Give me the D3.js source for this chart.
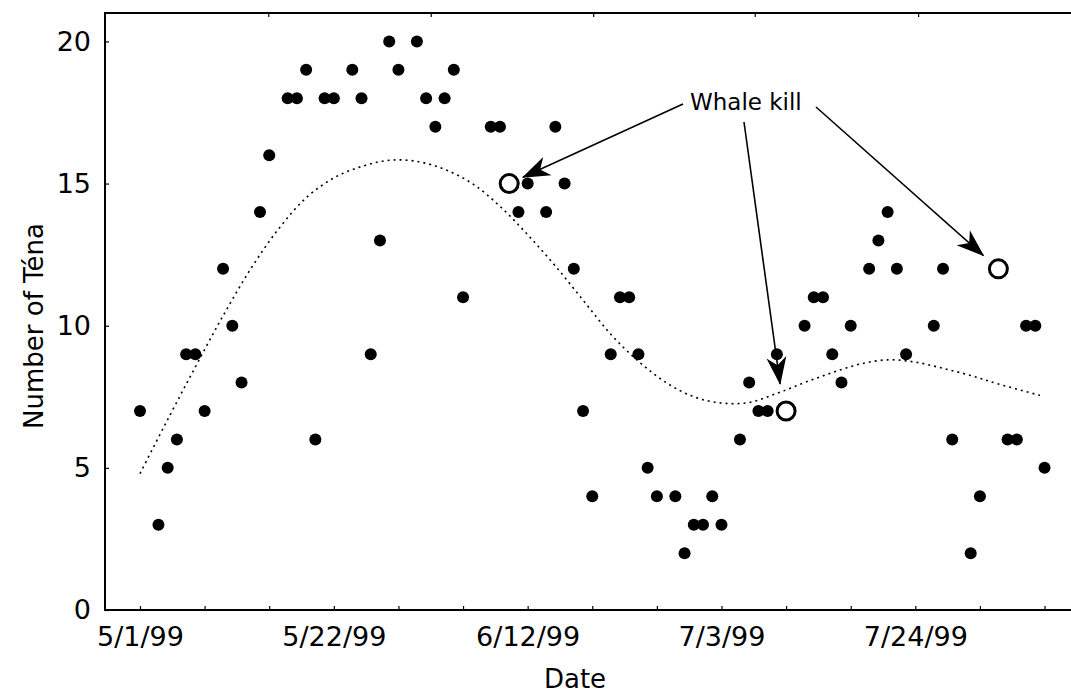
<!DOCTYPE html>
<html>
<head>
<meta charset="utf-8">
<script src="https://cdn.jsdelivr.net/npm/d3@7"></script>
<style>
  body { margin: 0; background: #fff; }
  svg text { font-family: "DejaVu Sans", Verdana, sans-serif; fill: #000; }
</style>
</head>
<body>
<div id="chart"></div>
<script>
// days after 5/1/99 and number of Téna seen that day
const obsDays = [0, 2, 3, 4, 5, 6, 7, 9, 10, 11, 13, 14, 16, 17, 18, 19, 20, 21, 23, 24, 25, 26, 27, 28,
    30, 31, 32, 33, 34, 35, 38, 39, 41, 42, 44, 45, 46, 47, 48, 49, 51, 52, 53, 54, 55, 56, 58, 59,
    60, 61, 62, 63, 65, 66, 67, 68, 69, 72, 73, 74, 75, 76, 77, 79, 80, 81, 82, 83, 86, 87, 88, 90,
    91, 94, 95, 96, 97, 98];
const obsCounts = [7, 3, 5, 6, 9, 9, 7, 12, 10, 8, 14, 16, 18, 18, 19, 6, 18, 18, 19, 18, 9, 13, 20, 19,
    20, 18, 17, 18, 19, 11, 17, 17, 14, 15, 14, 17, 15, 12, 7, 4, 9, 11, 11, 9, 5, 4, 4, 2,
    3, 3, 4, 3, 6, 8, 7, 7, 9, 10, 11, 11, 9, 8, 10, 12, 13, 14, 12, 9, 10, 12, 6, 2,
    4, 6, 6, 10, 10, 5];

// whale kill days (open circles)
const killDays = [40, 70, 93];
const killCounts = [15, 7, 12];

// dotted smooth trend
const trendDays = [0, 3, 6, 9, 12, 15, 18, 21, 24, 27, 30, 33, 36, 39, 42, 45, 48, 51, 54, 57, 60, 63,
    66, 69, 72, 75, 78, 81, 84, 87, 90, 93, 97.5];
const trendVals = [4.8, 6.7, 8.55, 10.35, 12.0, 13.4, 14.5, 15.2, 15.6, 15.82, 15.78, 15.5, 15.0, 14.2,
    13.2, 12.1, 10.9, 9.7, 8.75, 8.0, 7.5, 7.28, 7.3, 7.62, 8.0, 8.35, 8.65, 8.8, 8.72, 8.5, 8.25,
    7.95, 7.55];

const yTicks = [0, 5, 10, 15, 20];
const xLabelDays = [0, 21, 42, 63, 84];
const topTickDays = [13.9, 31.5, 49.1, 66.6, 84.3];

const startDate = new Date(Date.UTC(1999, 4, 1));
const toDate = d => new Date(startDate.getTime() + d * 864e5);

const width = 1071, height = 696;
const frame = {left: 105, top: 13, right: 1071, bottom: 610};

const svg = d3.select("#chart").append("svg")
    .attr("width", width)
    .attr("height", height);

// scales
const x = d3.scaleUtc()
    .domain([toDate(0), toDate(95)])
    .range([140, 140 + 95 * 9.23]);

const y = d3.scaleLinear()
    .domain([0, 21])
    .range([frame.bottom, frame.top]);

const fmt = d3.utcFormat("%-m/%-d/%y");

// frame lines
svg.append("path")
    .attr("d", `M${frame.right},${frame.top}H${frame.left}V${frame.bottom}H${frame.right}`)
    .attr("fill", "none")
    .attr("stroke", "#000")
    .attr("stroke-width", 2);

// bottom axis: weekly inward ticks, labels every 3 weeks
const weekDays = d3.range(0, 99, 7);
const xAxis = d3.axisBottom(x)
    .tickValues(weekDays.map(toDate))
    .tickSizeInner(-4)
    .tickSizeOuter(0)
    .tickFormat(d => {
        const day = Math.round((d - startDate) / 864e5);
        return xLabelDays.includes(day) ? fmt(d) : "";
    });

const gx = svg.append("g")
    .attr("transform", `translate(0,${frame.bottom})`)
    .call(xAxis);
gx.select(".domain").remove();
gx.selectAll("line").attr("stroke", "#000").attr("stroke-width", 1.2);
gx.selectAll("text")
    .attr("y", 17)
    .attr("dy", "0.71em")
    .style("font-size", "27px")
    .style("font-family", "'DejaVu Sans', Verdana, sans-serif")
    .attr("fill", "#000");

// top border ticks
const gTop = svg.append("g")
    .attr("transform", `translate(0,${frame.top})`)
    .call(d3.axisTop(x).tickValues(topTickDays.map(toDate)).tickSizeInner(-4).tickSizeOuter(0).tickFormat(""));
gTop.select(".domain").remove();
gTop.selectAll("line").attr("stroke", "#000").attr("stroke-width", 1.2);

// left axis
const gy = svg.append("g")
    .attr("transform", `translate(${frame.left},0)`)
    .call(d3.axisLeft(y).tickValues(yTicks).tickSizeInner(-4).tickSizeOuter(0).tickPadding(14));
gy.select(".domain").remove();
gy.selectAll("line").attr("stroke", "#000").attr("stroke-width", 1.2);
gy.selectAll("text")
    .style("font-size", "27px")
    .style("font-family", "'DejaVu Sans', Verdana, sans-serif")
    .attr("fill", "#000");

// axis titles
svg.append("text")
    .attr("transform", "translate(43,326) rotate(-90)")
    .attr("text-anchor", "middle")
    .style("font-size", "26px")
    .text("Number of Téna");

svg.append("text")
    .attr("x", 575)
    .attr("y", 688)
    .attr("text-anchor", "middle")
    .style("font-size", "26px")
    .text("Date");

// trend line
const line = d3.line()
    .x((d, i) => x(toDate(d)))
    .y((d, i) => y(trendVals[i]))
    .curve(d3.curveCatmullRom.alpha(0.5));

svg.append("path")
    .attr("d", line(trendDays))
    .attr("fill", "none")
    .attr("stroke", "#000")
    .attr("stroke-width", 1.6)
    .attr("stroke-dasharray", "2,4");

// observations
svg.append("g").selectAll("circle")
    .data(obsDays)
    .join("circle")
    .attr("cx", d => x(toDate(d)))
    .attr("cy", (d, i) => y(obsCounts[i]))
    .attr("r", 6)
    .attr("fill", "#000");

// whale kills
svg.append("g").selectAll("circle")
    .data(killDays)
    .join("circle")
    .attr("cx", d => x(toDate(d)))
    .attr("cy", (d, i) => y(killCounts[i]))
    .attr("r", 9)
    .attr("fill", "#fff")
    .attr("stroke", "#000")
    .attr("stroke-width", 3);

// annotation
const labelX = 690, labelY = 110;
svg.append("text")
    .attr("x", labelX)
    .attr("y", labelY)
    .style("font-size", "23px")
    .text("Whale kill");

svg.append("defs").append("marker")
    .attr("id", "head")
    .attr("markerUnits", "userSpaceOnUse")
    .attr("viewBox", "-30 -12 32 24")
    .attr("markerWidth", 32)
    .attr("markerHeight", 24)
    .attr("refX", 0)
    .attr("refY", 0)
    .attr("orient", "auto")
    .append("path")
    .attr("d", "M1,0 L-27,-10 L-19,0 L-27,10 Z")
    .attr("fill", "#000");

const arrowStarts = [[labelX - 7, labelY - 6], [labelX + 54, labelY + 12], [labelX + 126, labelY - 3]];
const arrowGaps = [15, 27, 20];

killDays.forEach((d, i) => {
    const tx = x(toDate(d)), ty = y(killCounts[i]);
    const [sx, sy] = arrowStarts[i];
    const len = Math.hypot(sx - tx, sy - ty);
    let ex, ey;
    if (i === 1) { ex = tx - 6; ey = ty - arrowGaps[i]; }
    else { ex = tx + (sx - tx) / len * arrowGaps[i]; ey = ty + (sy - ty) / len * arrowGaps[i]; }
    svg.append("line")
        .attr("x1", sx).attr("y1", sy)
        .attr("x2", ex).attr("y2", ey)
        .attr("stroke", "#000")
        .attr("stroke-width", 1.6)
        .attr("marker-end", "url(#head)");
});
</script>
</body>
</html>
